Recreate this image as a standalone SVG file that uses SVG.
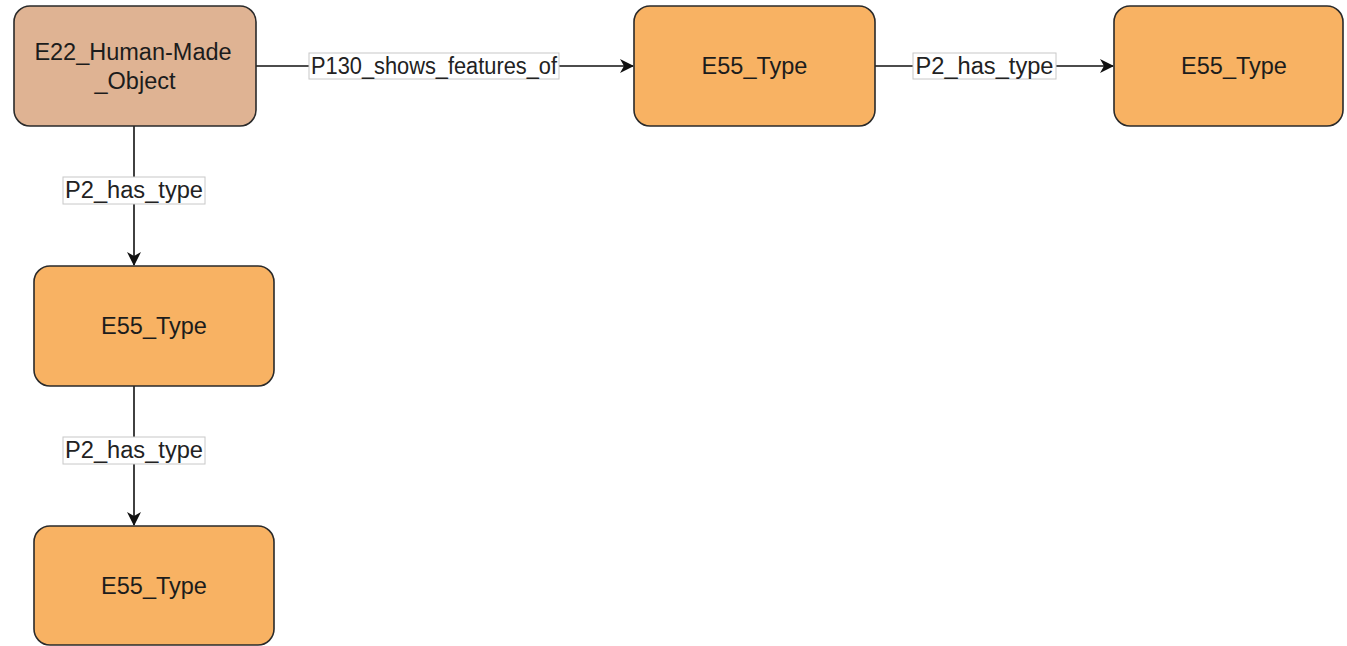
<svg xmlns="http://www.w3.org/2000/svg" width="1347" height="646" viewBox="0 0 1347 646">
  <defs>
    <style>
      .node rect { stroke: #2a2a2a; stroke-width: 1.6; }
      .e22 rect { fill: #DFB393; }
      .e55 rect { fill: #F8B263; }
      .ntext { font-family: "Liberation Sans", Arial, Helvetica, sans-serif; font-size: 23.5px; fill: #1c1c1c; text-anchor: middle; }
      .edge { stroke: #111; stroke-width: 1.6; fill: none; }
      .lblbox { fill: #ffffff; stroke: #c8c8c8; stroke-width: 1; }
      .ltext { font-family: "Liberation Sans", Arial, Helvetica, sans-serif; font-size: 23.5px; fill: #222; text-anchor: middle; }
    </style>
    <marker id="arrow" viewBox="0 0 14 14" refX="13" refY="7" markerWidth="14" markerHeight="14" markerUnits="userSpaceOnUse" orient="auto">
      <path d="M0,0 L14,7 L0,14 L4,7 Z" fill="#111"/>
    </marker>
  </defs>

  <g id="connectors">
    <g id="edge-p130">
      <line class="edge" x1="256" y1="66" x2="633" y2="66" marker-end="url(#arrow)"/>
      <rect class="lblbox" x="309" y="53" width="250" height="26"/>
      <text class="ltext" x="434" y="74" textLength="246" lengthAdjust="spacingAndGlyphs">P130_shows_features_of</text>
    </g>
    <g id="edge-p2-top">
      <line class="edge" x1="875" y1="66" x2="1113" y2="66" marker-end="url(#arrow)"/>
      <rect class="lblbox" x="913" y="53" width="143" height="26"/>
      <text class="ltext" x="984.5" y="74" textLength="138" lengthAdjust="spacingAndGlyphs">P2_has_type</text>
    </g>
    <g id="edge-p2-left1">
      <line class="edge" x1="134" y1="126" x2="134" y2="265" marker-end="url(#arrow)"/>
      <rect class="lblbox" x="63" y="177" width="142" height="27"/>
      <text class="ltext" x="134" y="198" textLength="138" lengthAdjust="spacingAndGlyphs">P2_has_type</text>
    </g>
    <g id="edge-p2-left2">
      <line class="edge" x1="134" y1="386" x2="134" y2="525" marker-end="url(#arrow)"/>
      <rect class="lblbox" x="63" y="437" width="142" height="27"/>
      <text class="ltext" x="134" y="458" textLength="138" lengthAdjust="spacingAndGlyphs">P2_has_type</text>
    </g>
  </g>

  <g id="node-e22" class="node e22">
    <rect x="14" y="6" width="242" height="120" rx="16" ry="16"/>
    <text class="ntext" x="133" y="60">E22_Human-Made</text>
    <text class="ntext" x="135" y="89">_Object</text>
  </g>

  <g id="node-e55-top-mid" class="node e55">
    <rect x="634" y="6" width="241" height="120" rx="16" ry="16"/>
    <text class="ntext" x="754.5" y="74">E55_Type</text>
  </g>

  <g id="node-e55-top-right" class="node e55">
    <rect x="1114" y="6" width="229" height="120" rx="16" ry="16"/>
    <text class="ntext" x="1234" y="74">E55_Type</text>
  </g>

  <g id="node-e55-left-mid" class="node e55">
    <rect x="34" y="266" width="240" height="120" rx="16" ry="16"/>
    <text class="ntext" x="154" y="334">E55_Type</text>
  </g>

  <g id="node-e55-left-bottom" class="node e55">
    <rect x="34" y="526" width="240" height="119" rx="16" ry="16"/>
    <text class="ntext" x="154" y="594">E55_Type</text>
  </g>
</svg>
